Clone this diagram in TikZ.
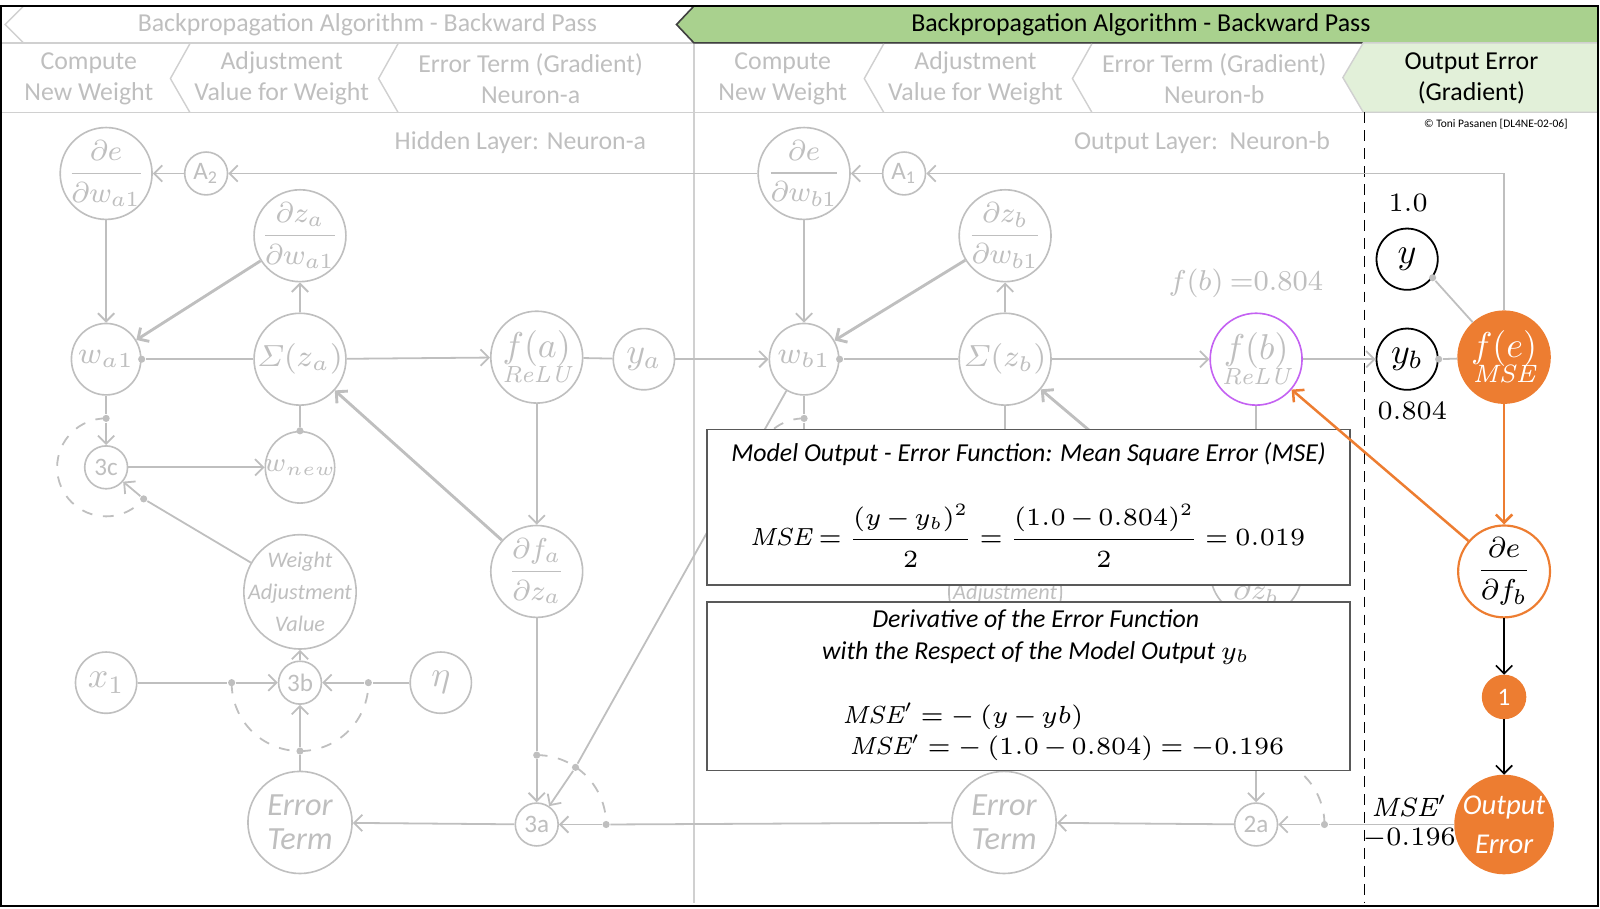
\documentclass[tikz,border=0pt]{standalone}
\usepackage{fix-cm}
\usepackage{amsmath, amssymb}
\usepackage[no-math]{fontspec}
\setmainfont{Carlito}
\usepackage{tikz}
\usetikzlibrary{shapes.geometric, arrows.meta, positioning, calc}

\definecolor{lgray}{HTML}{BFBFBF}
\definecolor{hgray}{HTML}{D0D0D0}
\definecolor{morange}{HTML}{ED7D31}
\definecolor{hgreen}{HTML}{A9D18E}
\definecolor{lgreen}{HTML}{E2F0D9}
\definecolor{fpurple}{HTML}{C462F2}
\definecolor{boxgray}{HTML}{595959}

\newcommand{\mse}{\textnormal{\fontfamily{lmr}\itshape\selectfont MSE}}
\newcommand{\lmit}[1]{{\fontfamily{lmr}\itshape\selectfont #1}}

\begin{document}
\begin{tikzpicture}[x=0.01cm, y=-0.01cm,
    >={Straight Barb[length=0.08cm, width=0.16cm]},
    nd/.style={ellipse, draw=lgray, line width=0.45pt, fill=white, inner sep=0pt},
    gtext/.style={text=lgray, align=center, inner sep=0pt, font=\fontsize{8.5}{10}\selectfont},
    gt/.style={label={[gtext]center:{#1}}},
    gf/.style={label={[gtext, font=\fontsize{8}{9}\selectfont]center:{#1}}},
    bt/.style={label={[gtext, text=black, font=\fontsize{10}{11}\selectfont]center:{#1}}},
    bf/.style={label={[gtext, text=black, font=\fontsize{8}{9}\selectfont]center:{#1}}},
    wt/.style={label={[gtext, text=white]center:{#1}}},
    big/.style={minimum width=0.90cm, minimum height=0.90cm},
    wnd/.style={minimum width=0.68cm, minimum height=0.70cm},
    mid/.style={minimum width=0.60cm, minimum height=0.60cm},
    sml/.style={minimum width=0.42cm, minimum height=0.42cm},
    wav/.style={minimum width=1.10cm, minimum height=1.12cm, label={[gtext, font=\fontsize{6.2}{9}\selectfont\itshape]center:{Weight\\Adjustment\\Value}}},
    err/.style={minimum width=1.02cm, minimum height=1.00cm, label={[gtext, font=\fontsize{9}{9.6}\selectfont\itshape]center:{Error\\Term}}},
    bnd/.style={nd, draw=black, line width=0.5pt},
    ond/.style={nd, draw=morange, fill=morange},
    ornd/.style={nd, draw=morange, line width=0.6pt},
    gline/.style={draw=lgray, line width=0.5pt},
    garrow/.style={gline, ->},
    gthick/.style={gline, ->, line width=0.8pt},
    darc/.style={draw=lgray, line width=0.5pt, dashed},
    oarrow/.style={draw=morange, line width=0.7pt, ->},
    barrow/.style={draw=black, line width=0.45pt, ->},
    dotnode/.style={circle, fill=lgray, inner sep=0pt, minimum size=0.07cm},
    hd/.style={align=center, text=lgray, font=\fontsize{7.2}{8.6}\selectfont},
    mbox/.style={draw=boxgray, fill=white, line width=0.5pt, minimum width=6.30cm, inner sep=0pt},
    lbl/.style={font=\fontsize{7.4}{9}\selectfont},
    eq/.style={font=\fontsize{6.9}{8}\selectfont, execute at begin node={\thickmuskip=4mu\relax\medmuskip=2.5mu\relax}}
]
    \useasboundingbox (0,0) rectangle (1568,890);

    % Draw the header rows
    \draw[hgray, line width=0.4pt] (23,6) -- (5,24) -- (23,42);
    \draw[hgray, line width=0.4pt] (0,42) -- (1566,42);
    \draw[hgray, line width=0.4pt] (0,110) -- (1566,110);
    \draw[hgray, line width=0.4pt] (680,42) -- (680,885);
    \node[hd] (hdLeft) at (360,24) {Backpropagation Algorithm - Backward Pass};
    \draw[fill=hgreen, draw=black!75, line width=0.45pt] (680,6) -- (663,24) -- (680,42) -- (1566,42) -- (1566,6) -- cycle;
    \node[hd, text=black] (hdRight) at (1118,24) {Backpropagation Algorithm - Backward Pass};
    \foreach \x in {186, 390, 866, 1070} {
        \draw[hgray, line width=0.4pt] (\x,43) -- (\x-19,77) -- (\x,110);
    }
    \draw[fill=lgreen, draw=hgray, line width=0.4pt] (1336,42) -- (1316,76) -- (1336,110) -- (1566,110) -- (1566,42) -- cycle;
    \foreach \x/\txt [count=\i] in {87/{Compute\\New Weight}, 276/{Adjustment\\Value for Weight}, 520/{Error Term (Gradient)\\Neuron-a},
        767/{Compute\\New Weight}, 956/{Adjustment\\Value for Weight}, 1190/{Error Term (Gradient)\\Neuron-b}} {
        \node[hd] (step\i) at (\x,77) {\txt};
    }
    \node[hd, text=black] (stepOut) at (1442,77) {Output Error\\(Gradient)};
    \draw[black, line width=0.4pt, densely dashed] (1337,110) -- (1337,885);
    \node[font=\fontsize{3.2}{4}\selectfont] (copy) at (1466,122) {\textcopyright{} Toni Pasanen [DL4NE-02-06]};
    \node[hd] (layerA) at (510,140) {Hidden Layer: Neuron-a};
    \node[hd] (layerB) at (1178,140) {Output Layer:\ \ Neuron-b};

    % Hidden layer: neuron-a
    \node[nd, big, gf={$\dfrac{\partial e}{\partial w_{a1}}$}] (dEdWa) at (104,170) {};
    \node[nd, sml, gt={\fontsize{7}{8}\selectfont A\textsubscript{2}}] (A2) at (202,170) {};
    \node[nd, big, gf={$\dfrac{\partial z_a}{\partial w_{a1}}$}] (dZdWa) at (294,231) {};
    \node[nd, wnd, gt={$w_{a1}$}] (wa1) at (104,352) {};
    \node[nd, big, gt={$\varSigma(z_a)$}] (sumA) at (294,352) {};
    \node[nd, big, gt={\fontsize{10}{11}\selectfont$f(a)$\\[-3pt]{\fontsize{6.5}{7}\selectfont\lmit{ReLU}}}] (fA) at (526,350) {};
    \node[nd, mid, gt={\fontsize{10}{11}\selectfont$y_a$}] (yA) at (631,352) {};
    \node[nd, sml, gt={\fontsize{7}{8}\selectfont 3c}] (n3c) at (104,458) {};
    \node[nd, wnd, gt={\fontsize{7.5}{8}\selectfont$w_{new}$}] (wnewA) at (294,458) {};
    \node[nd, wav] (wavA) at (294,580) {};
    \node[nd, big, gf={$\dfrac{\partial f_a}{\partial z_a}$}] (dFdZa) at (526,560) {};
    \node[nd, mid, gt={\fontsize{10}{11}\selectfont$x_1$}] (x1) at (104,669) {};
    \node[nd, sml, gt={\fontsize{7}{8}\selectfont 3b}] (n3b) at (294,669) {};
    \node[nd, mid, gt={\fontsize{10}{11}\selectfont$\eta$}] (eta) at (432,669) {};
    \node[nd, err] (errA) at (294,806) {};
    \node[nd, sml, gt={\fontsize{7}{8}\selectfont 3a}] (n3a) at (526,808) {};

    % Output layer: neuron-b
    \node[nd, big, gf={$\dfrac{\partial e}{\partial w_{b1}}$}] (dEdWb) at (788,170) {};
    \node[nd, sml, gt={\fontsize{7}{8}\selectfont A\textsubscript{1}}] (A1) at (886,170) {};
    \node[nd, big, gf={$\dfrac{\partial z_b}{\partial w_{b1}}$}] (dZdWb) at (985,231) {};
    \node[nd, wnd, gt={$w_{b1}$}] (wb1) at (788,352) {};
    \node[nd, big, gt={$\varSigma(z_b)$}] (sumB) at (985,352) {};
    \node[nd, big, draw=fpurple, gt={\fontsize{10}{11}\selectfont$f(b)$\\[-3pt]{\fontsize{6.5}{7}\selectfont\lmit{ReLU}}}] (fB) at (1231,352) {};
    \node[nd, wav] (wavB) at (985,580) {};
    \node[nd, big, gf={$\dfrac{\partial f_b}{\partial z_b}$}] (dFdZb) at (1231,560) {};
    \node[nd, err] (errB) at (984,806) {};
    \node[nd, sml, gt={\fontsize{7}{8}\selectfont 2a}] (n2a) at (1231,808) {};

    % Output error
    \node[bnd, mid, bt={$y$}] (yT) at (1379,254) {};
    \node[bnd, mid, bt={$y_b$}] (yB) at (1379,352) {};
    \node[ond, big, wt={\fontsize{10}{11}\selectfont$f(e)$\\[-3pt]{\fontsize{7}{8}\selectfont\lmit{MSE}}}] (fE) at (1474,350) {};
    \node[ornd, big, bf={$\dfrac{\partial e}{\partial f_b}$}] (dEdFb) at (1474,560) {};
    \node[ond, sml, wt={\fontsize{7}{8}\selectfont 1}] (one) at (1474,683) {};
    \node[ond, minimum width=0.96cm, minimum height=0.96cm,
        label={[gtext, text=white, font=\fontsize{8}{10.8}\selectfont\itshape]center:{Output\\Error}}] (outErr) at (1474,808) {};

    % Dots on the connectors
    \node[dotnode] (dwa) at (wa1.east) {};
    \node[dotnode] (d3cT) at (104,410) {};
    \node[dotnode] (d3cR) at (140.8,488.9) {};
    \node[dotnode] (dwn) at (wnewA.north) {};
    \node[dotnode] (dX) at (227,669) {};
    \node[dotnode] (dEta) at (361,669) {};
    \node[dotnode] (dErrA) at (294,736) {};
    \node[dotnode] (d3aT) at (526,740) {};
    \node[dotnode] (d3aD) at (564,752) {};
    \node[dotnode] (d3aR) at (594,808) {};
    \node[dotnode] (dwb) at (wb1.east) {};
    \node[dotnode] (dWbD) at (788,410) {};
    \node[dotnode] (dyt) at (yT.-36) {};
    \node[dotnode] (dyb) at (yB.east) {};
    \node[dotnode] (d2aR) at (1298,808) {};
    \coordinate (h3cB) at (788,440);
    \coordinate (hwB) at (985,440);
    \coordinate (d2aT) at (1231,741);

    % Connectors of neuron-a
    \draw[garrow] (dEdWb) -- (A2);
    \draw[garrow] (A2) -- (dEdWa);
    \draw[garrow] (dEdWa) -- (wa1);
    \draw[gthick] (dZdWa) -- (wa1);
    \draw[garrow] (sumA) -- (dZdWa);
    \draw[gline] (dwa) -- (sumA);
    \draw[garrow] (sumA) -- (fA);
    \draw[gline] (fA) -- (yA);
    \draw[garrow] (yA) -- (wb1);
    \draw[gline] (wa1) -- (d3cT);
    \draw[garrow] (d3cT) -- (n3c);
    \draw[darc] (d3cT) arc[start angle=90, end angle=320, radius=0.48cm];
    \draw[garrow] (n3c) -- (wnewA);
    \draw[gline] (sumA) -- (dwn);
    \draw[gline] (wavA) -- (d3cR);
    \draw[garrow] (d3cR) -- (n3c);
    \draw[gthick] (dFdZa) -- (sumA);
    \draw[garrow] (fA) -- (dFdZa);
    \draw[gline] (dFdZa) -- (d3aT);
    \draw[garrow] (d3aT) -- (n3a);
    \draw[gline] (wb1) -- (d3aD);
    \draw[garrow] (d3aD) -- (n3a);
    \draw[darc] (d3aT) arc[start angle=90, end angle=0, radius=0.68cm];
    \draw[gline] (errB) -- (d3aR);
    \draw[garrow] (d3aR) -- (n3a);
    \draw[garrow] (n3a) -- (errA);
    \draw[gline] (errA) -- (dErrA);
    \draw[garrow] (dErrA) -- (n3b);
    \draw[gline] (x1) -- (dX);
    \draw[garrow] (dX) -- (n3b);
    \draw[gline] (eta) -- (dEta);
    \draw[garrow] (dEta) -- (n3b);
    \draw[darc] (dX) arc[start angle=180, end angle=360, radius=0.67cm];
    \draw[garrow] (n3b) -- (wavA);

    % Connectors of neuron-b
    \draw[garrow] (A1) -- (dEdWb);
    \draw[garrow] (fE) |- (A1);
    \draw[garrow] (dEdWb) -- (wb1);
    \draw[gthick] (dZdWb) -- (wb1);
    \draw[garrow] (sumB) -- (dZdWb);
    \draw[gline] (dwb) -- (sumB);
    \draw[garrow] (sumB) -- (fB);
    \draw[garrow] (fB) -- (yB);
    \draw[gline] (dyb) -- (fE);
    \draw[gline] (dyt) -- (fE);
    \draw[gline] (wb1) -- (dWbD) -- (h3cB);
    \draw[darc] (dWbD) arc[start angle=90, end angle=150, radius=0.48cm];
    \draw[gline] (sumB) -- (hwB);
    \draw[gthick] (dFdZb) -- (sumB);
    \draw[gline] (fB) -- (dFdZb);
    \draw[garrow] (d2aT) -- (n2a);
    \draw[gline] (outErr) -- (d2aR);
    \draw[garrow] (d2aR) -- (n2a);
    \draw[darc] (d2aR) arc[start angle=0, end angle=90, radius=0.67cm];
    \draw[garrow] (n2a) -- (errB);

    % Draw the two boxes
    \node[mbox, minimum height=1.52cm] (boxMSE) at (1008,497) {};
    \node[font=\fontsize{7.2}{9}\selectfont\itshape] (mseTitle) at (1008,445) {Model Output - Error Function: Mean Square Error (MSE)};
    \node[eq] (mseEq) at (1007,525) {$\mse = \dfrac{(y-y_b)^2}{2} = \dfrac{(1.0-0.804)^2}{2} = 0.019$};
    \node[mbox, minimum height=1.65cm] (boxDer) at (1008,672.5) {};
    \node[align=center, font=\fontsize{7.2}{8.9}\selectfont\itshape] (derTitle) at (1015,624) {Derivative of the Error Function\\with the Respect of the Model Output $y_b$};
    \node[eq, anchor=west] (derEq1) at (813,702) {$\mse' = -\ (y-yb)$};
    \node[eq, anchor=west] (derEq2) at (820,733) {$\mse' = -\ (1.0-0.804) = -0.196$};

    % Orange and black gradient path
    \draw[oarrow] (fE) -- (dEdFb);
    \draw[oarrow] (dEdFb) -- (fB);
    \draw[barrow] (dEdFb) -- (one);
    \draw[barrow] (one) -- (outErr);

    % Values
    \node[lbl] (valY) at (1380,199) {$1.0$};
    \node[lbl] (valYb) at (1384,403) {$0.804$};
    \node[text=lgray, font=\fontsize{8}{9}\selectfont] (valFb) at (1221,278) {$f(b)$ $=$$0.804$};
    \node[lbl] (valMse) at (1381,790) {$\mse'$};
    \node[lbl] (valErr) at (1381,822) {$-0.196$};

    % Outer frame
    \draw[black, line width=0.6pt] (1,6) rectangle (1566,888);
\end{tikzpicture}
\end{document}
